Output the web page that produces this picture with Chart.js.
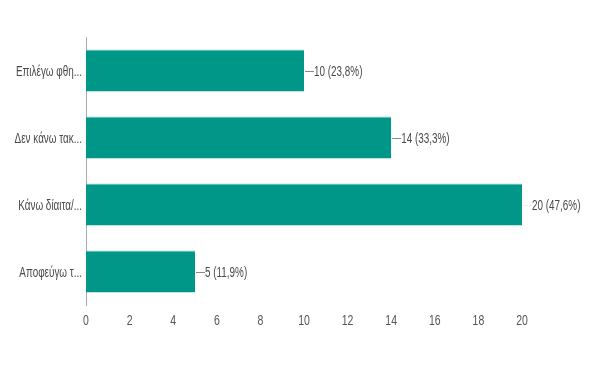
<!DOCTYPE html>
<html><head><meta charset="utf-8">
<script src="https://cdn.jsdelivr.net/npm/chart.js@4/dist/chart.umd.min.js"></script>
<style>html,body{margin:0;padding:0;background:#fff}#wrap{width:605px;height:384px}</style>
</head><body><div id="wrap"><canvas id="c" width="605" height="384"></canvas></div>
<script>
const categories = ["Επιλέγω φθη...", "Δεν κάνω τακ...", "Κάνω δίαιτα/...", "Αποφεύγω τ..."];
const counts = [10, 14, 20, 5];
const percentLabels = ["23,8%", "33,3%", "47,6%", "11,9%"];
const xTicks = [0, 2, 4, 6, 8, 10, 12, 14, 16, 18, 20];

const FONT = "'Liberation Sans', Arial, sans-serif";

function narrowText(ctx, text, x, y, align, sx, size, color) {
  ctx.save();
  ctx.translate(x, y);
  ctx.scale(sx, 1);
  ctx.font = size + "px " + FONT;
  ctx.fillStyle = color;
  ctx.textAlign = align;
  ctx.textBaseline = 'middle';
  ctx.fillText(text, 0, 0);
  ctx.restore();
}

const textPlugin = {
  id: 'narrowText',
  afterDatasetsDraw(chart) {
    const ctx = chart.ctx;
    const meta = chart.getDatasetMeta(0);
    const xs = chart.scales.x, ys = chart.scales.y;
    const area = chart.chartArea;
    meta.data.forEach((bar, i) => {
      const x = bar.x, y = bar.y;
      ctx.save();
      ctx.strokeStyle = i === 2 ? '#eee' : '#888';
      ctx.lineWidth = 1;
      ctx.beginPath();
      ctx.moveTo(x + 1, Math.round(y) + 0.5);
      ctx.lineTo(x + 10, Math.round(y) + 0.5);
      ctx.stroke();
      ctx.restore();
      narrowText(ctx, counts[i] + ' (' + percentLabels[i] + ')', x + 10, y + 1, 'left', 0.66, 15, '#4a4a4a');
    });
    categories.forEach((c, i) => {
      narrowText(ctx, c, area.left - 4, ys.getPixelForValue(i) + 1, 'right', 0.66, 15, '#4a4a4a');
    });
    xTicks.forEach(v => {
      narrowText(ctx, String(v), xs.getPixelForValue(v), area.bottom + 16, 'center', 0.7, 15, '#555');
    });
  }
};

new Chart(document.getElementById('c'), {
  type: 'bar',
  data: {
    labels: categories,
    datasets: [{
      data: counts,
      backgroundColor: '#009688',
      borderColor: '#80cbc4',
      borderWidth: {top: 1, left: 0, right: 0, bottom: 0},
      borderSkipped: false,
      barPercentage: 0.63,
      categoryPercentage: 1
    }]
  },
  options: {
    indexAxis: 'y',
    responsive: false,
    animation: false,
    layout: {padding: {top: 37, right: 83, left: 0, bottom: 0}},
    plugins: {legend: {display: false}, tooltip: {enabled: false}},
    scales: {
      x: {
        min: 0, max: 20,
        afterBuildTicks(s) { s.ticks = xTicks.map(v => ({value: v})); },
        afterFit(s) { s.height = 79; },
        grid: {display: false, drawTicks: false},
        border: {display: false},
        ticks: {display: false}
      },
      y: {
        afterFit(s) { s.width = 86; },
        grid: {display: false, drawTicks: false},
        border: {display: true, color: '#aaa', width: 1},
        ticks: {display: false}
      }
    }
  },
  plugins: [textPlugin]
});
</script></body></html>
